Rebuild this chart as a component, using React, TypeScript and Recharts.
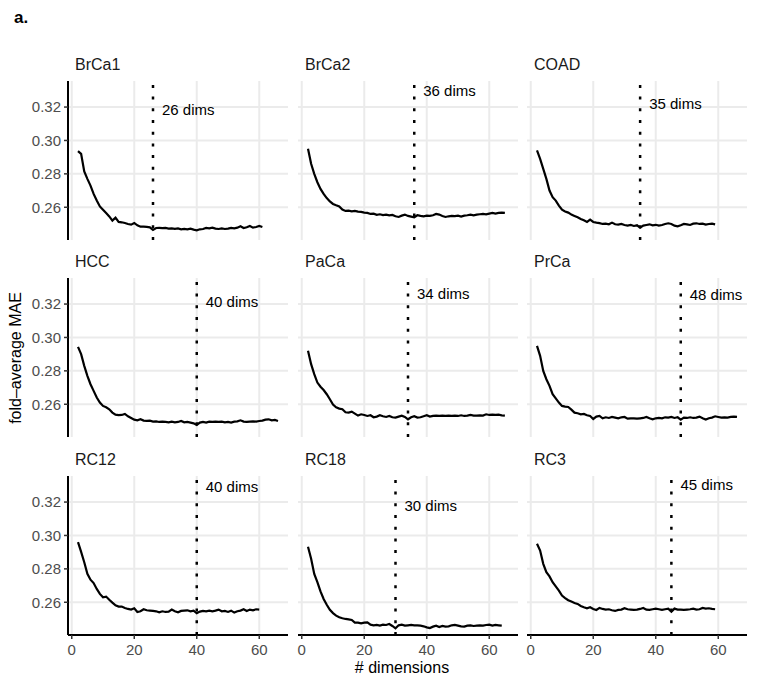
import React from "react";
import {
  LineChart,
  Line,
  XAxis,
  YAxis,
  ReferenceLine,
  ReferenceDot,
} from "recharts";

// number of dimensions (x) shared by every panel
const DIMS = [
  2, 3, 4, 5, 6, 7, 8, 9, 10, 11, 12, 13, 14, 15, 16, 17, 18, 19, 20, 21, 22, 23, 24, 25, 26, 27, 28, 29, 30, 31, 32, 33, 34,
  35, 36, 37, 38, 39, 40, 41, 42, 43, 44, 45, 46, 47, 48, 49, 50, 51, 52, 53, 54, 55, 56, 57, 58, 59, 60, 61, 62, 63, 64, 65, 66,
];

const BRCA1 = [
  0.2936, 0.292, 0.2815, 0.277, 0.273, 0.268, 0.264, 0.2605, 0.2585, 0.2565, 0.2545, 0.252, 0.2538, 0.2512, 0.251, 0.2506,
  0.25, 0.2496, 0.2506, 0.2492, 0.2484, 0.2484, 0.2483, 0.248, 0.2464, 0.2476, 0.2477, 0.2475, 0.2476, 0.2472, 0.2474, 0.2471,
  0.2473, 0.2468, 0.247, 0.2468, 0.2472, 0.2466, 0.2462, 0.2468, 0.247, 0.2476, 0.2474, 0.2478, 0.2472, 0.247, 0.2474, 0.247,
  0.2472, 0.2476, 0.2474, 0.2478, 0.2486, 0.2476, 0.248, 0.2488, 0.2478, 0.2482, 0.2488, 0.2482,
];
const BRCA2 = [
  0.295, 0.286, 0.28, 0.275, 0.271, 0.268, 0.2655, 0.2635, 0.262, 0.2612, 0.2605, 0.2586, 0.2578, 0.258, 0.2576, 0.2578,
  0.2574, 0.2572, 0.2568, 0.2566, 0.256, 0.2562, 0.2555, 0.2558, 0.2553, 0.2556, 0.2552, 0.2554, 0.2546, 0.2542, 0.255, 0.2556,
  0.2548, 0.2544, 0.254, 0.2552, 0.2548, 0.2546, 0.255, 0.2548, 0.2552, 0.256, 0.2556, 0.2548, 0.2542, 0.2546, 0.2548, 0.2547,
  0.255, 0.2544, 0.255, 0.2552, 0.2556, 0.2552, 0.2556, 0.2558, 0.256, 0.2558, 0.2562, 0.2566, 0.2562, 0.2566, 0.2568, 0.2566,
];
const COAD = [
  0.294, 0.289, 0.283, 0.277, 0.27, 0.266, 0.264, 0.261, 0.2585, 0.2575, 0.2568, 0.2556, 0.2548, 0.254, 0.253, 0.2522, 0.2512,
  0.2526, 0.2512, 0.2508, 0.2505, 0.25, 0.2502, 0.2498, 0.2508, 0.2498, 0.2496, 0.25, 0.2494, 0.249, 0.2494, 0.2488, 0.2492,
  0.2478, 0.249, 0.2494, 0.2498, 0.2492, 0.2495, 0.249, 0.2494, 0.25, 0.2504, 0.25, 0.249, 0.2486, 0.2492, 0.25, 0.2498,
  0.2494, 0.2502, 0.2504, 0.25, 0.2502, 0.2496, 0.25, 0.2502, 0.2498,
];
const HCC = [
  0.2944, 0.29, 0.283, 0.277, 0.272, 0.268, 0.264, 0.261, 0.259, 0.2582, 0.257, 0.255, 0.2538, 0.2535, 0.2536, 0.2542, 0.2528,
  0.2518, 0.2508, 0.2504, 0.251, 0.2502, 0.25, 0.2502, 0.2496, 0.2498, 0.2494, 0.2496, 0.2494, 0.2492, 0.2496, 0.2492, 0.2494,
  0.25, 0.2492, 0.2494, 0.249, 0.2486, 0.2476, 0.249, 0.2494, 0.249, 0.2496, 0.2494, 0.2496, 0.2494, 0.2496, 0.2492, 0.2494,
  0.249, 0.2496, 0.2498, 0.2504, 0.2496, 0.2494, 0.2496, 0.2498, 0.2496, 0.25, 0.2502, 0.2508, 0.251, 0.2504, 0.2506, 0.25,
];
const PACA = [
  0.292, 0.284, 0.278, 0.273, 0.2705, 0.2685, 0.266, 0.263, 0.2598, 0.2582, 0.2574, 0.257, 0.2552, 0.255, 0.2556, 0.2544,
  0.2532, 0.254, 0.2536, 0.253, 0.2534, 0.2522, 0.2526, 0.2534, 0.2528, 0.2524, 0.253, 0.2522, 0.252, 0.2526, 0.2532, 0.2524,
  0.251, 0.2522, 0.2528, 0.252, 0.2522, 0.2528, 0.2534, 0.2526, 0.253, 0.2532, 0.253, 0.2532, 0.253, 0.2532, 0.253, 0.2532,
  0.253, 0.2534, 0.253, 0.2532, 0.2536, 0.2532, 0.2532, 0.2534, 0.2532, 0.254, 0.2536, 0.2538, 0.2536, 0.2538, 0.2534, 0.2532,
];
const PRCA = [
  0.295, 0.289, 0.28, 0.275, 0.271, 0.266, 0.2635, 0.261, 0.259, 0.2586, 0.2584, 0.2568, 0.255, 0.2546, 0.254, 0.2542, 0.2534,
  0.253, 0.2512, 0.2526, 0.253, 0.2516, 0.2522, 0.2518, 0.2524, 0.252, 0.2516, 0.2522, 0.2524, 0.2514, 0.2516, 0.2516, 0.2514,
  0.2516, 0.2518, 0.2524, 0.2516, 0.251, 0.2516, 0.2518, 0.2516, 0.2522, 0.252, 0.2524, 0.2518, 0.2522, 0.2508, 0.252, 0.2518,
  0.2522, 0.2518, 0.252, 0.2526, 0.2516, 0.2508, 0.2516, 0.252, 0.2528, 0.2524, 0.252, 0.2522, 0.252, 0.2524, 0.2526, 0.2524,
];
const RC12 = [
  0.296, 0.2902, 0.284, 0.277, 0.2735, 0.2715, 0.268, 0.265, 0.263, 0.2634, 0.2615, 0.2598, 0.2582, 0.2574, 0.2574, 0.2566,
  0.256, 0.2556, 0.2564, 0.2542, 0.2546, 0.2558, 0.2552, 0.255, 0.2548, 0.2546, 0.254, 0.2546, 0.2542, 0.2544, 0.2556, 0.2546,
  0.254, 0.2548, 0.255, 0.2552, 0.2546, 0.255, 0.2534, 0.2544, 0.2548, 0.2546, 0.255, 0.2546, 0.255, 0.2556, 0.2546, 0.2548,
  0.2542, 0.255, 0.2538, 0.2546, 0.255, 0.2558, 0.2548, 0.2556, 0.2552, 0.2558, 0.2556,
];
const RC18 = [
  0.2932, 0.286, 0.277, 0.272, 0.2665, 0.262, 0.2585, 0.2555, 0.2535, 0.252, 0.251, 0.2504, 0.25, 0.2498, 0.2494, 0.2478,
  0.2478, 0.2474, 0.2478, 0.248, 0.2466, 0.2462, 0.2464, 0.246, 0.2466, 0.2464, 0.247, 0.2458, 0.2444, 0.2462, 0.2466, 0.246,
  0.2462, 0.2464, 0.2462, 0.2462, 0.246, 0.2456, 0.245, 0.2446, 0.2454, 0.246, 0.2452, 0.2458, 0.2454, 0.2456, 0.2462, 0.2464,
  0.246, 0.2456, 0.2454, 0.246, 0.2462, 0.2458, 0.246, 0.2462, 0.246, 0.2464, 0.2466, 0.246, 0.2464, 0.2462, 0.246,
];
const RC3 = [
  0.295, 0.291, 0.283, 0.278, 0.2755, 0.272, 0.2695, 0.267, 0.264, 0.2625, 0.2612, 0.2604, 0.2596, 0.259, 0.2578, 0.257,
  0.2564, 0.257, 0.256, 0.2554, 0.2566, 0.256, 0.2556, 0.2558, 0.2552, 0.2548, 0.2554, 0.2556, 0.2564, 0.2558, 0.2556, 0.2554,
  0.2556, 0.256, 0.2566, 0.2556, 0.2554, 0.2558, 0.2562, 0.2558, 0.2554, 0.2558, 0.2562, 0.2544, 0.2562, 0.2556, 0.2556,
  0.2554, 0.2556, 0.2558, 0.2562, 0.2556, 0.2558, 0.2566, 0.2562, 0.2564, 0.256, 0.2558,
];

const PANEL_NAMES = ["BrCa1", "BrCa2", "COAD", "HCC", "PaCa", "PrCa", "RC12", "RC18", "RC3"];
const PANEL_VALUES = [BRCA1, BRCA2, COAD, HCC, PACA, PRCA, RC12, RC18, RC3];
const CUTOFFS = [26, 36, 35, 40, 34, 48, 40, 30, 45];
const LABEL_Y = [0.3186, 0.33, 0.3224, 0.3214, 0.3264, 0.3258, 0.3292, 0.3178, 0.3308];

const X_TICKS = [0, 20, 40, 60];
const Y_TICKS = [0.26, 0.28, 0.3, 0.32];
const X_DOMAIN: [number, number] = [-1.2, 69.2];
const Y_DOMAIN: [number, number] = [0.2404, 0.3356];

const COL_LEFT = [68, 298, 527];
const ROW_TOP = [81, 278, 476];
const PLOT_W = 220;
const PLOT_H = 159;
const Y_AXIS_W = 60;
const X_AXIS_H = 34;

const FONT = "'Liberation Sans', Arial, Helvetica, sans-serif";
const GRID = "#ebebeb";
const TICK_TEXT = "#4d4d4d";

// the axis keeps its tick marks; labels come from reference dots
const NoTickText = () => <g />;

function Panel({ idx }: { idx: number }) {
  const row = Math.floor(idx / 3);
  const col = idx % 3;
  const showY = col === 0;
  const showX = row === 2;
  const data = PANEL_VALUES[idx].map((v, i) => ({ d: DIMS[i], v }));
  const cut = CUTOFFS[idx];
  const yLine = showY ? "#000" : "transparent";
  const yTick = showY ? "#333" : "transparent";
  const yText = showY ? TICK_TEXT : "transparent";

  return (
    <>
      <div
        style={{
          position: "absolute",
          left: COL_LEFT[col] + 7,
          top: ROW_TOP[row] - 26,
          fontSize: 16,
          lineHeight: "20px",
          color: "#1a1a1a",
        }}
      >
        {PANEL_NAMES[idx]}
      </div>
      <div style={{ position: "absolute", left: COL_LEFT[col] - Y_AXIS_W, top: ROW_TOP[row] }}>
        <LineChart
          width={PLOT_W + Y_AXIS_W + 12}
          height={PLOT_H + (showX ? X_AXIS_H : 0)}
          data={data}
          margin={{ top: 0, right: 12, bottom: 0, left: 0 }}
        >
          <XAxis
            type="number"
            dataKey="d"
            domain={X_DOMAIN}
            ticks={X_TICKS}
            interval={0}
            allowDataOverflow
            hide={!showX}
            height={X_AXIS_H}
            axisLine={{ stroke: "#000", strokeWidth: 2 }}
            tickLine={{ stroke: "#333", strokeWidth: 1.5 }}
            tickSize={4}
            tickMargin={5}
            tick={NoTickText}
          />
          <YAxis
            type="number"
            domain={Y_DOMAIN}
            ticks={Y_TICKS}
            interval={0}
            allowDataOverflow
            width={Y_AXIS_W}
            axisLine={{ stroke: yLine, strokeWidth: 2 }}
            tickLine={{ stroke: yTick, strokeWidth: 1.5 }}
            tickSize={4}
            tickMargin={3}
            tick={{ fill: yText, fontSize: 15 }}
            tickFormatter={(v: number) => v.toFixed(2)}
          />
          {X_TICKS.map((t) => (
            <ReferenceLine key={`gx${t}`} x={t} stroke={GRID} strokeWidth={2} />
          ))}
          {Y_TICKS.map((t) => (
            <ReferenceLine key={`gy${t}`} y={t} stroke={GRID} strokeWidth={2} />
          ))}
          <ReferenceLine x={cut} stroke="#000" strokeWidth={2.5} strokeDasharray="3 8.7" />
          <Line
            type="linear"
            dataKey="v"
            stroke="#000"
            strokeWidth={2.2}
            dot={false}
            isAnimationActive={false}
          />
          <ReferenceDot
            x={cut}
            y={LABEL_Y[idx]}
            shape={(p: any) => (
              <text x={p.cx + 9} y={p.cy} fontSize={15} fill="#000" dominantBaseline="central" textAnchor="start">
                {`${cut} dims`}
              </text>
            )}
          />
          {showX &&
            X_TICKS.filter((t) => t !== 0).map((t) => (
              <ReferenceDot
                key={`xl${t}`}
                x={t}
                y={Y_DOMAIN[0]}
                ifOverflow="visible"
                shape={(p: any) => (
                  <text x={p.cx} y={p.cy + 9} dy="0.71em" fontSize={15} fill={TICK_TEXT} textAnchor="middle">
                    {String(t)}
                  </text>
                )}
              />
            ))}
        </LineChart>
      </div>
    </>
  );
}

// the "0" label sits at the left edge of each bottom panel; it is laid over the charts
function ZeroLabel({ col }: { col: number }) {
  const x = COL_LEFT[col] + ((0 - X_DOMAIN[0]) / (X_DOMAIN[1] - X_DOMAIN[0])) * PLOT_W;
  return (
    <div
      style={{
        position: "absolute",
        left: x - 20,
        top: ROW_TOP[2] + 166,
        width: 40,
        textAlign: "center",
        fontSize: 15,
        lineHeight: "15px",
        color: TICK_TEXT,
      }}
    >
      0
    </div>
  );
}

export default function App() {
  return (
    <div
      style={{
        position: "absolute",
        left: 0,
        top: 0,
        width: 771,
        height: 678,
        background: "#fff",
        fontFamily: FONT,
        overflow: "hidden",
      }}
    >
      <div style={{ position: "absolute", left: 14, top: 8, fontSize: 17, fontWeight: "bold", lineHeight: "20px" }}>
        a.
      </div>
      {PANEL_NAMES.map((_, i) => (
        <Panel key={i} idx={i} />
      ))}
      {[0, 1, 2].map((c) => (
        <ZeroLabel key={c} col={c} />
      ))}
      <div
        style={{
          position: "absolute",
          left: 16 - 150,
          top: 358 - 10,
          width: 300,
          height: 20,
          lineHeight: "20px",
          textAlign: "center",
          fontSize: 16,
          transform: "rotate(-90deg)",
        }}
      >
        fold–average MAE
      </div>
      <div
        style={{
          position: "absolute",
          left: 402 - 100,
          top: 658,
          width: 200,
          lineHeight: "20px",
          textAlign: "center",
          fontSize: 16,
        }}
      >
        # dimensions
      </div>
    </div>
  );
}
